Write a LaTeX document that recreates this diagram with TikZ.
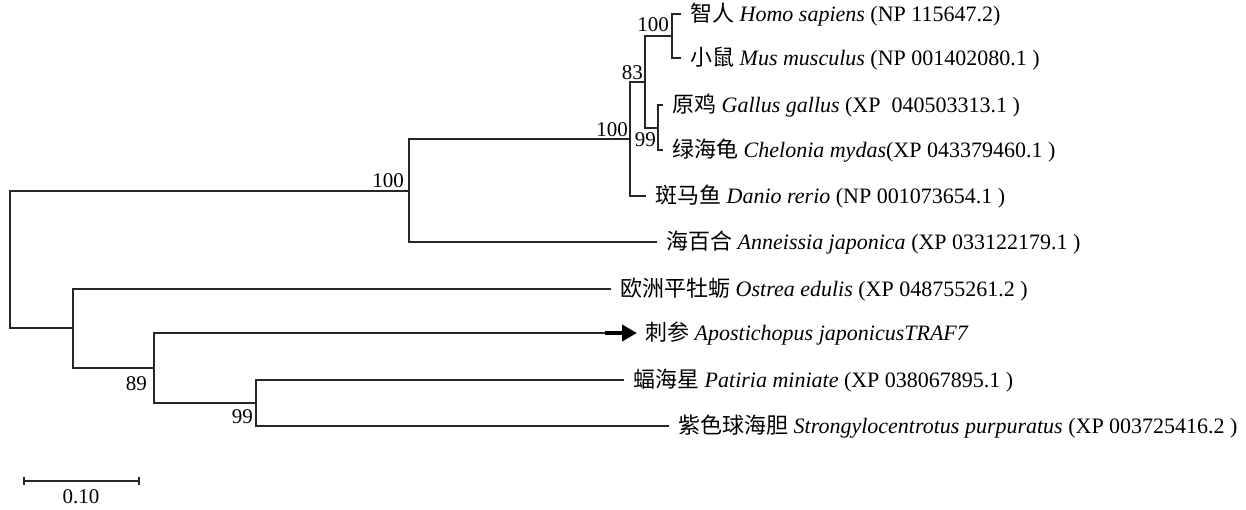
\documentclass[tikz,border=0pt]{standalone}
\usepackage{fontspec}
\setmainfont{Liberation Serif}
\newfontfamily\cjk{Noto Sans CJK SC}
\usetikzlibrary{arrows.meta}
\begin{document}
\begin{tikzpicture}[x=1pt,y=-1pt,
  br/.style={line width=1.3pt, draw=black!85, line cap=rect},
  leaf/.style={anchor=west, inner xsep=10pt, inner ysep=0pt, text height=17pt, text depth=2pt, font=\fontsize{22}{26}\selectfont},
  bs/.style={anchor=base east, inner sep=0pt, font=\fontsize{21}{25}\selectfont},
  bigarrow/.style={line width=4.5pt, draw=black, -{Triangle[length=15pt,width=16pt]}}]
\useasboundingbox (0,0) rectangle (1246,510);
% internal nodes
\coordinate (root) at (10,259);
\coordinate (nA) at (409,191);
\coordinate (nB) at (630,139);
\coordinate (n83) at (645,82);
\coordinate (nH) at (672,36);
\coordinate (n99) at (658,128);
\coordinate (nL) at (73,328);
\coordinate (n89) at (154,368);
\coordinate (n99b) at (256,403);
\coordinate (arrowstart) at (605,333);
% leaves
\node[leaf] (homo) at (680,14) {{\cjk 智人} \textit{Homo sapiens} (NP 115647.2)};
\node[leaf] (mus) at (680,58) {{\cjk 小鼠} \textit{Mus musculus} (NP 001402080.1 )};
\node[leaf] (gallus) at (662,105) {{\cjk 原鸡} \textit{Gallus gallus} (XP~\ 040503313.1 )};
\node[leaf] (chel) at (662,150) {{\cjk 绿海龟} \textit{Chelonia mydas}(XP 043379460.1 )};
\node[leaf] (danio) at (645,196) {{\cjk 斑马鱼} \textit{Danio rerio} (NP 001073654.1 )};
\node[leaf] (ann) at (656,242) {{\cjk 海百合} \textit{Anneissia japonica} (XP 033122179.1 )};
\node[leaf] (ostrea) at (610,289) {{\cjk 欧洲平牡蛎} \textit{Ostrea edulis} (XP 048755261.2 )};
\node[leaf, inner xsep=8pt] (apo) at (637,333) {{\cjk 刺参} \textit{Apostichopus japonicusTRAF7}};
\node[leaf] (pat) at (623,380) {{\cjk 蝠海星} \textit{Patiria miniate} (XP 038067895.1 )};
\node[leaf] (stro) at (668,426) {{\cjk 紫色球海胆} \textit{Strongylocentrotus purpuratus} (XP 003725416.2 )};
% branches
\draw[br] (root) |- (nA);
\draw[br] (root) |- (nL);
\draw[br] (nA) |- (nB);
\draw[br] (nA) |- (ann.west);
\draw[br] (nB) |- (n83);
\draw[br] (nB) |- (danio.west);
\draw[br] (n83) |- (nH);
\draw[br] (n83) |- (n99);
\draw[br] (nH) |- (homo.west);
\draw[br] (nH) |- (mus.west);
\draw[br] (n99) |- (gallus.west);
\draw[br] (n99) |- (chel.west);
\draw[br] (nL) |- (ostrea.west);
\draw[br] (nL) |- (n89);
\draw[br] (n89) |- (arrowstart);
\draw[br] (n89) |- (n99b);
\draw[br] (n99b) |- (pat.west);
\draw[br] (n99b) |- (stro.west);
\draw[bigarrow] (arrowstart) -- (apo.west);
% bootstrap values
\node[bs] (b1) at (669,32) {100};
\node[bs] (b2) at (643,80) {83};
\node[bs] (b3) at (628,137) {100};
\node[bs] (b4) at (656,147) {99};
\node[bs] (b5) at (404,188) {100};
\node[bs] (b6) at (147,390) {89};
\node[bs] (b7) at (253,423) {99};
% scale bar
\coordinate (sL) at (24,481);
\coordinate (sR) at (139,481);
\draw[br, line width=1.2pt, line cap=butt] (sL) -- (sR);
\draw[br, line width=1.2pt] ([yshift=-3pt]sL) -- ([yshift=3pt]sL);
\draw[br, line width=1.2pt] ([yshift=-3pt]sR) -- ([yshift=3pt]sR);
\node[anchor=center, inner sep=0pt, font=\fontsize{21}{25}\selectfont] (scale) at (81,497) {0.10};
\end{tikzpicture}
\end{document}
